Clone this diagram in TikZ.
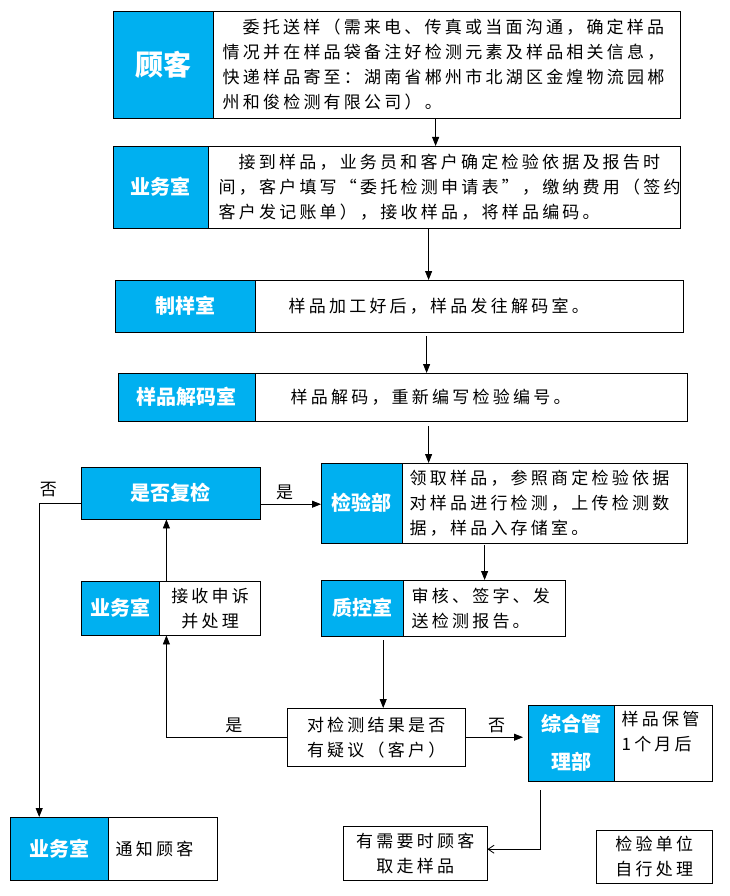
\documentclass[tikz,border=0pt]{standalone}
\usepackage{fontspec}
\setmainfont{Noto Sans CJK SC}
\newfontfamily\bodyfont[LetterSpace=19]{Noto Sans CJK SC}
\usetikzlibrary{arrows.meta}
\definecolor{deptblue}{RGB}{0,176,240}

\tikzset{
  dept/.style={draw=black, fill=deptblue, text=white, anchor=north west, inner sep=0pt, align=center,
    font=\fontsize{20}{24}\selectfont\bfseries},
  info/.style={draw=black, fill=white, anchor=north west, inner ysep=0pt, align=left,
    font=\bodyfont\fontsize{17}{25}\selectfont},
  plain/.style={info, align=center},
  flow/.style={-{Triangle[length=9pt,width=7pt]}, line width=0.8pt},
  back/.style={-{Straight Barb[length=6pt,width=8pt]}, line width=0.8pt},
  tag/.style={font=\bodyfont\fontsize{17}{20}\selectfont}
}

\begin{document}
\begin{tikzpicture}[x=1pt, y=-1pt]
\useasboundingbox (0,0) rectangle (729,896);

% main column
\node[dept, minimum width=100pt, minimum height=107pt, font=\fontsize{28}{30}\selectfont\bfseries] (guke) at (113,11) {顾客};
\node[info, minimum height=107pt, text width=449pt, inner xsep=9pt] (guke-t) at (guke.north east)
  {\hspace*{20pt}委托送样（需来电、传真或当面沟通，确定样品\\情况并在样品袋备注好检测元素及样品相关信息，\\快递样品寄至：湖南省郴州市北湖区金煌物流园郴\\州和俊检测有限公司）。};

\node[dept, minimum width=95pt, minimum height=82pt] (ywsA) at (113,146) {业务室};
\node[info, minimum height=82pt, text width=452pt, inner xsep=10pt] (ywsA-t) at (ywsA.north east)
  {\hspace*{20pt}接到样品，业务员和客户确定检验依据及报告时\\间，客户填写“委托检测申请表”，缴纳费用（签约\\客户发记账单），接收样品，将样品编码。};

\node[dept, minimum width=140pt, minimum height=52pt] (zhiyang) at (115,280) {制样室};
\node[info, minimum height=52pt, text width=362pt, inner xsep=33pt] (zhiyang-t) at (zhiyang.north east)
  {样品加工好后，样品发往解码室。};

\node[dept, minimum width=137pt, minimum height=48pt] (jiema) at (118,373) {样品解码室};
\node[info, minimum height=48pt, text width=362pt, inner xsep=35pt] (jiema-t) at (jiema.north east)
  {样品解码，重新编写检验编号。};

\node[dept, minimum width=81pt, minimum height=80pt] (jianyan) at (321,463) {检验部};
\node[info, minimum height=80pt, text width=271pt, inner xsep=7pt] (jianyan-t) at (jianyan.north east)
  {领取样品，参照商定检验依据\\对样品进行检测，上传检测数\\据，样品入存储室。};

\node[dept, minimum width=82pt, minimum height=56pt] (zhikong) at (321,580) {质控室};
\node[info, minimum height=56pt, text width=146pt, inner xsep=8pt] (zhikong-t) at (zhikong.north east)
  {审核、签字、发\\送检测报告。};

\node[plain, minimum width=178pt, minimum height=58pt, text width=166pt, inner xsep=6pt] (yiyi) at (287,708)
  {对检测结果是否\\有疑议（客户）};

\node[dept, minimum width=86pt, minimum height=76pt] (zonghe) at (528,705) {综合管\\[14pt]理部};
\node[info, minimum height=76pt, text width=84pt, inner xsep=7pt] (zonghe-t) at (zonghe.north east)
  {样品保管\\1个月后\\\mbox{}};

\node[plain, minimum width=144pt, minimum height=54pt, text width=134pt, inner xsep=5pt] (fetch) at (343,826)
  {有需要时顾客\\取走样品};
\node[plain, minimum width=116pt, minimum height=53pt, text width=106pt, inner xsep=5pt] (self) at (596,830)
  {检验单位\\自行处理};

% left column
\node[dept, minimum width=179pt, minimum height=52pt] (fujian) at (81,467) {是否复检};
\node[dept, minimum width=78pt, minimum height=54pt] (ywsB) at (81,581) {业务室};
\node[plain, minimum height=54pt, text width=87pt, inner xsep=7pt] (ywsB-t) at (ywsB.north east)
  {接收申诉\\并处理};
\node[dept, minimum width=98pt, minimum height=63pt] (ywsC) at (10,817) {业务室};
\node[info, minimum height=63pt, text width=95pt, inner xsep=7pt] (ywsC-t) at (ywsC.north east) {通知顾客};

% connectors
\draw[flow] ([xshift=-11.5pt]guke-t.south) -- ([xshift=-11.5pt]guke-t.south |- ywsA-t.north);
\draw[flow] ([xshift=-16pt]ywsA-t.south) -- ([xshift=-16pt]ywsA-t.south |- zhiyang-t.north);
\draw[flow, shorten <=4pt] ([xshift=-43pt]zhiyang-t.south) -- ([xshift=-43pt]zhiyang-t.south |- jiema-t.north);
\draw[flow, shorten <=5pt] ([xshift=-43pt]jiema-t.south) -- ([xshift=-43pt]jiema-t.south |- jianyan-t.north);
\draw[flow, shorten <=2pt] (zhikong-t.north |- jianyan-t.south) -- (zhikong-t.north);
\draw[flow, shorten <=4pt] ([xshift=7pt]yiyi.north |- zhikong.south) -- ([xshift=7pt]yiyi.north);
\draw[flow, shorten >=5pt] (yiyi.east) -- (zonghe.west |- yiyi.east) node[tag, midway, above=1pt] {否};
\draw[back, shorten <=9pt] ([xshift=-31pt]zonghe.south) |- ([yshift=4pt]fetch.east);
\draw[flow] (yiyi.west) -| ([xshift=7pt]ywsB-t.south west) node[tag, pos=0.22, above=1pt] {是};
\draw[flow] ([xshift=7pt]ywsB-t.north west) -- ([xshift=7pt]ywsB-t.north west |- fujian.south);
\draw[flow] ([yshift=-11pt]fujian.east) -- ([yshift=-11pt]jianyan.west |- fujian.east) node[tag, pos=0.4, above=1pt] {是};
\draw[flow] ([yshift=-10pt]fujian.west) -| ([xshift=-20pt]ywsC.north) node[tag, pos=0.39, above=3pt] {否};
\end{tikzpicture}
\end{document}
